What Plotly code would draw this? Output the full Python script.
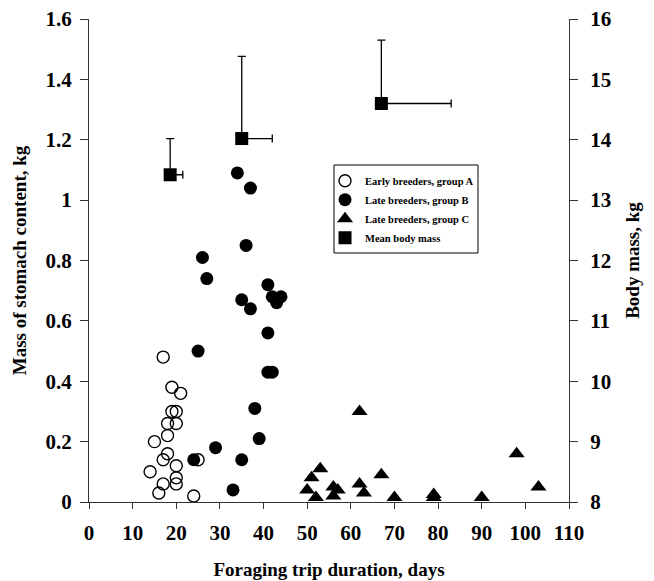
import plotly.graph_objects as go

# Group A: early breeders (open circles)
a_x = [17, 19, 21, 19, 20, 18, 20, 18, 15, 18, 17, 25, 20, 14, 20, 17, 20, 16, 24]
a_y = [0.48, 0.38, 0.36, 0.30, 0.30, 0.26, 0.26, 0.22, 0.20, 0.16, 0.14, 0.14, 0.12, 0.10, 0.08, 0.06, 0.06, 0.03, 0.02]

# Group B: late breeders (filled circles)
b_x = [34, 37, 36, 26, 27, 41, 42, 44, 43, 35, 37, 41, 25, 41, 42, 38, 39, 29, 24, 35, 33]
b_y = [1.09, 1.04, 0.85, 0.81, 0.74, 0.72, 0.68, 0.68, 0.66, 0.67, 0.64, 0.56, 0.50, 0.43, 0.43, 0.31, 0.21, 0.18, 0.14, 0.14, 0.04]

# Group C: late breeders (triangles)
c_x = [62, 98, 53, 51, 67, 50, 52, 56, 57, 56, 62, 63, 70, 79, 79, 90, 103]
c_y = [0.30, 0.16, 0.11, 0.08, 0.09, 0.04, 0.015, 0.05, 0.04, 0.02, 0.06, 0.03, 0.015, 0.025, 0.015, 0.015, 0.05]

# Mean body mass (right axis), with one-sided error bars
m_x = [18.6, 35.0, 67.0]
m_y = [13.42, 14.02, 14.6]
m_err_y = [0.6, 1.36, 1.05]
m_err_x = [2.9, 7.0, 16.0]

x_ticks = [0, 10, 20, 30, 40, 50, 60, 70, 80, 90, 100, 110]
y_ticks = [0, 0.2, 0.4, 0.6, 0.8, 1.0, 1.2, 1.4, 1.6]
y_ticktext = ["0", "0.2", "0.4", "0.6", "0.8", "1", "1.2", "1.4", "1.6"]
y2_ticks = [8, 9, 10, 11, 12, 13, 14, 15, 16]

serif = "Liberation Serif, Times New Roman, serif"
tickfont = dict(family=serif, size=21, color="black", weight="bold")
titlefont = dict(family=serif, size=19, color="black", weight="bold")
axcol = "#333"

fig = go.Figure()
fig.add_trace(go.Scatter(
    x=a_x, y=a_y, mode="markers", name="Early breeders, group A",
    marker=dict(symbol="circle-open", size=12, color="black", line=dict(width=1.4, color="black")),
    cliponaxis=False))
fig.add_trace(go.Scatter(
    x=b_x, y=b_y, mode="markers", name="Late breeders, group B",
    marker=dict(symbol="circle", size=13, color="black"),
    cliponaxis=False))
fig.add_trace(go.Scatter(
    x=c_x, y=c_y, mode="markers", name="Late breeders, group C",
    marker=dict(symbol="triangle-up", size=14, color="black"),
    cliponaxis=False))
fig.add_trace(go.Scatter(
    x=m_x, y=m_y, mode="markers", name="Mean body mass", yaxis="y2",
    marker=dict(symbol="square", size=13, color="black"),
    error_y=dict(type="data", symmetric=False, array=m_err_y, arrayminus=[0, 0, 0],
                 color="black", thickness=1.3, width=4),
    error_x=dict(type="data", symmetric=False, array=m_err_x, arrayminus=[0, 0, 0],
                 color="black", thickness=1.3, width=4),
    cliponaxis=False))

# legend frame drawn as a shape so the entries can sit close to its edge
fig.add_shape(type="rect", xref="paper", yref="paper",
              x0=0.5104, x1=0.8104, y0=0.5155, y1=0.6977,
              line=dict(color="black", width=1), fillcolor="rgba(0,0,0,0)", layer="above")

fig.update_layout(
    width=646, height=573,
    margin=dict(l=81, r=85, t=11, b=79),
    paper_bgcolor="white", plot_bgcolor="white",
    showlegend=True,
    legend=dict(x=0.4917, y=0.6952, xanchor="left", yanchor="top",
                bgcolor="rgba(0,0,0,0)", borderwidth=0,
                font=dict(family=serif, size=10.5, color="black", weight="bold"),
                tracegroupgap=0, itemwidth=30),
    xaxis=dict(range=[0, 110], tickvals=x_ticks, ticks="outside", ticklen=6,
               tickcolor=axcol, showline=True, linecolor=axcol, linewidth=1,
               showgrid=False, zeroline=False, tickfont=tickfont, automargin=False,
               ticklabelstandoff=6, ticklabeloverflow="allow",
               title=dict(text="Foraging trip duration, days", font=titlefont, standoff=18)),
    yaxis=dict(range=[0, 1.6], tickvals=y_ticks, ticktext=y_ticktext, ticks="outside",
               ticklen=8, tickcolor=axcol, showline=True, linecolor=axcol, linewidth=1,
               showgrid=False, zeroline=False, tickfont=tickfont, automargin=False,
               ticklabelstandoff=4, ticklabeloverflow="allow",
               title=dict(text="Mass of stomach content, kg", font=titlefont, standoff=13)),
    yaxis2=dict(range=[8, 16], tickvals=y2_ticks, overlaying="y", side="right",
                ticks="outside", ticklen=8, tickcolor=axcol, showline=True,
                linecolor=axcol, linewidth=1, showgrid=False, zeroline=False,
                tickfont=tickfont, automargin=False, ticklabelstandoff=8,
                ticklabeloverflow="allow",
                title=dict(text="Body mass, kg", font=titlefont, standoff=14)),
)

fig.write_html("out.html")
